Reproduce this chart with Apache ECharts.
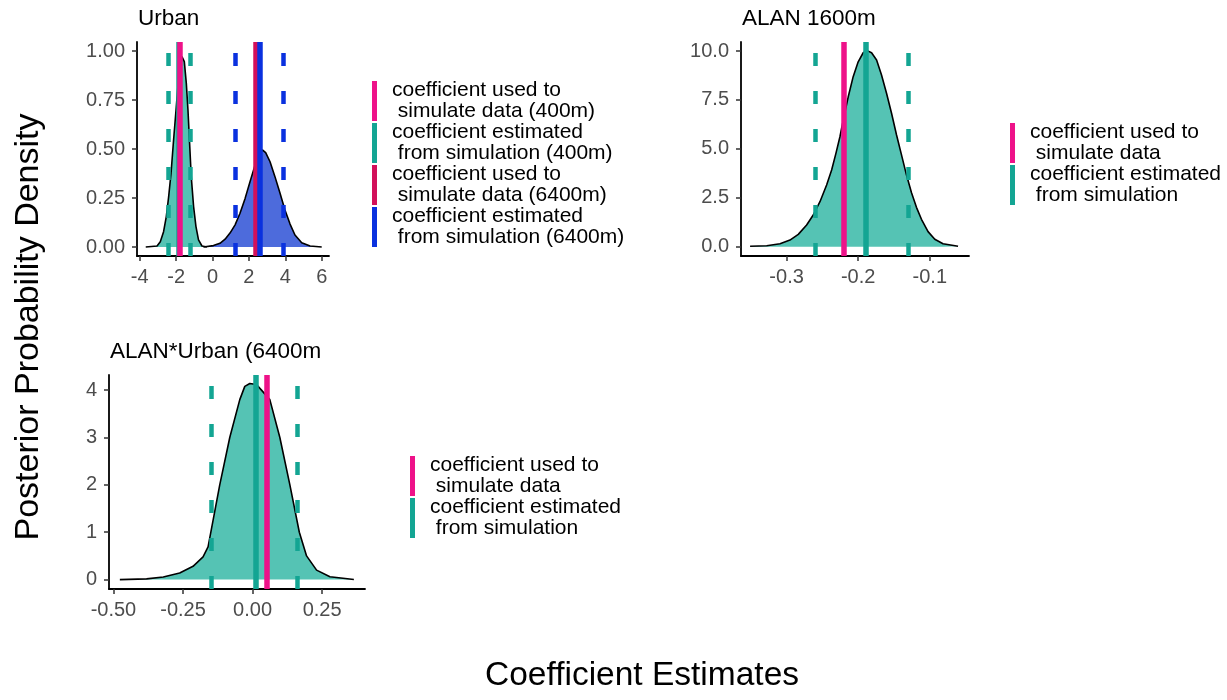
<!DOCTYPE html>
<html><head><meta charset="utf-8">
<script src="https://cdn.jsdelivr.net/npm/echarts@6/dist/echarts.min.js"></script>
<style>html,body{margin:0;padding:0;background:#fff}#c{width:1227px;height:700px}</style>
</head><body><div id="c"></div>
<script>
// ---------- Panel 1: Urban ----------
const urbanDens400X = [-3.67, -3.05, -2.87, -2.69, -2.54, -2.41, -2.28, -2.14, -1.99, -1.86, -1.77, -1.68, -1.55, -1.44, -1.35, -1.26, -1.17, -1.04, -0.91, -0.77, -0.58, -0.31];
const urbanDens400Y = [0, 0.005, 0.027, 0.078, 0.155, 0.257, 0.376, 0.546, 0.716, 0.869, 0.954, 0.971, 0.946, 0.835, 0.70, 0.53, 0.36, 0.206, 0.104, 0.036, 0.005, 0];
const urbanDens6400X = [-0.50, 0.05, 0.41, 0.69, 0.96, 1.24, 1.51, 1.79, 2.06, 2.34, 2.57, 2.74, 2.92, 3.16, 3.43, 3.71, 3.98, 4.26, 4.53, 4.90, 5.36, 6.00];
const urbanDens6400Y = [0, 0.007, 0.019, 0.04, 0.071, 0.113, 0.172, 0.248, 0.333, 0.418, 0.478, 0.495, 0.481, 0.435, 0.359, 0.274, 0.189, 0.117, 0.061, 0.022, 0.005, 0];
const urbanTrue400 = -1.82, urbanEst400 = -1.83, urbanCI400 = [-2.46, -1.20];
const urbanTrue6400 = 2.35, urbanEst6400 = 2.57, urbanCI6400 = [1.27, 3.87];
const urbanXTicks = [-4, -2, 0, 2, 4, 6];
const urbanXLabels = ['-4', '-2', '0', '2', '4', '6'];
const urbanYTicks = [0, 0.25, 0.5, 0.75, 1];
const urbanYLabels = ['0.00', '0.25', '0.50', '0.75', '1.00'];

// ---------- Panel 2: ALAN 1600m ----------
const alanDensX = [-0.351, -0.3278, -0.3092, -0.2953, -0.2837, -0.2720, -0.2628, -0.2534, -0.2441, -0.2371, -0.2311, -0.2255, -0.2199, -0.2139, -0.2070, -0.2000, -0.1930, -0.1874, -0.1813, -0.1743, -0.1674, -0.1604, -0.1534, -0.1464, -0.1395, -0.1325, -0.1255, -0.1186, -0.1116, -0.1024, -0.0930, -0.0815, -0.0605];
const alanDensY = [0.02, 0.05, 0.15, 0.34, 0.63, 1.11, 1.62, 2.30, 3.15, 3.92, 4.77, 5.62, 6.64, 7.66, 8.69, 9.45, 9.91, 10.02, 9.91, 9.54, 8.77, 7.84, 6.82, 5.71, 4.69, 3.66, 2.76, 2.01, 1.40, 0.77, 0.38, 0.15, 0.02];
const alanTrue = -0.2186, alanEst = -0.190, alanCI = [-0.258, -0.1265];
const alanXTicks = [-0.3, -0.2, -0.1];
const alanXLabels = ['-0.3', '-0.2', '-0.1'];
const alanYTicks = [0, 2.5, 5, 7.5, 10];
const alanYLabels = ['0.0', '2.5', '5.0', '7.5', '10.0'];

// ---------- Panel 3: ALAN*Urban (6400m ----------
const intDensX = [-0.477, -0.381, -0.321, -0.262, -0.214, -0.178, -0.160, -0.150, -0.118, -0.082, -0.046, -0.028, -0.010, 0.014, 0.032, 0.062, 0.098, 0.134, 0.168, 0.194, 0.230, 0.278, 0.364];
const intDensY = [0, 0.014, 0.056, 0.14, 0.28, 0.48, 0.69, 1.0, 2.0, 3.0, 3.8, 4.08, 4.14, 4.12, 4.0, 3.8, 3.0, 2.0, 1.0, 0.5, 0.2, 0.06, 0];
const intTrue = 0.053, intEst = 0.007, intCI = [-0.151, 0.158];
const intXTicks = [-0.5, -0.25, 0, 0.25];
const intXLabels = ['-0.50', '-0.25', '0.00', '0.25'];
const intYTicks = [0, 1, 2, 3, 4];
const intYLabels = ['0', '1', '2', '3', '4'];

// ---------- Text ----------
const panelTitles = ['Urban', 'ALAN 1600m', 'ALAN*Urban (6400m'];
const legendUrban = ['coefficient used to\n simulate data (400m)', 'coefficient estimated\n from simulation (400m)', 'coefficient used to\n simulate data (6400m)', 'coefficient estimated\n from simulation (6400m)'];
const legendSingle = ['coefficient used to\n simulate data', 'coefficient estimated\n from simulation'];
const yTitle = 'Posterior Probability Density';
const xTitle = 'Coefficient Estimates';

// ---------- Styles ----------
const PINK = '#EE1289', TEAL = '#13A593', TEAL_FILL = '#55C3B4', BLUE = '#0A31DF', BLUE_FILL = '#4D6BDC', CRIMSON = '#D2105A';
const FONT = '"Liberation Sans", Arial, sans-serif';
const DASH = [13, 25];

const zip = (xs, ys) => xs.map((x, i) => [x, ys[i]]);

function axisCfg(gi, min, max, ticks, labels, margin) {
  return {
    type: 'value', gridIndex: gi, min: min, max: max,
    axisLine: { show: true, onZero: false, lineStyle: { color: '#000', width: 1.8 } },
    axisTick: { show: true, length: 5, customValues: ticks, lineStyle: { color: '#333', width: 1.5 } },
    axisLabel: { customValues: ticks, margin: margin, fontSize: 20, fontFamily: FONT, color: '#4D4D4D',
      formatter: v => { let i = ticks.findIndex(t => Math.abs(t - v) < 1e-9); return i >= 0 ? labels[i] : ''; } },
    splitLine: { show: false }
  };
}
function density(gi, name, xs, ys, fill) {
  return { type: 'line', name: name, xAxisIndex: gi, yAxisIndex: gi, data: zip(xs, ys), showSymbol: false, symbol: 'none',
    smooth: false, lineStyle: { color: '#000', width: 1.6 }, areaStyle: { color: fill, opacity: 1 }, z: 2, silent: true, animation: false };
}
function vlines(gi, name, color, solid, dashed) {
  const data = [];
  if (solid !== null) data.push({ xAxis: solid, lineStyle: { type: 'solid', width: 5.5 } });
  (dashed || []).forEach(d => data.push({ xAxis: d, lineStyle: { type: DASH, width: 4.5 } }));
  return { type: 'line', name: name, xAxisIndex: gi, yAxisIndex: gi, data: [], color: color,
    itemStyle: { color: color }, lineStyle: { color: color },
    markLine: { symbol: ['none', 'none'], silent: true, animation: false, label: { show: false },
      lineStyle: { color: color }, emphasis: { disabled: true }, data: data }, z: 3 };
}
function legendCfg(names, colors, left, top) {
  return { orient: 'vertical', left: left, top: top, padding: 0, itemWidth: 5, itemHeight: 40, itemGap: 0, selectedMode: false,
    data: names.map((n, i) => ({ name: n, icon: 'rect', itemStyle: { color: colors[i] } })),
    textStyle: { fontSize: 21, lineHeight: 21, fontFamily: FONT, color: '#000', padding: [0, 0, 0, 10] } };
}

const chart = echarts.init(document.getElementById('c'), null, { renderer: 'canvas' });
chart.setOption({
  animation: false,
  backgroundColor: '#fff',
  grid: [
    { left: 137, top: 42, width: 192, height: 214 },
    { left: 741, top: 42, width: 228, height: 214 },
    { left: 109, top: 375, width: 256, height: 214 }
  ],
  xAxis: [
    axisCfg(0, -4.15, 6.40, urbanXTicks, urbanXLabels, 11),
    axisCfg(1, -0.3637, -0.0452, alanXTicks, alanXLabels, 11),
    axisCfg(2, -0.516, 0.404, intXTicks, intXLabels, 11)
  ],
  yAxis: [
    axisCfg(0, -0.046, 1.046, urbanYTicks, urbanYLabels, 12),
    axisCfg(1, -0.475, 10.46, alanYTicks, alanYLabels, 12),
    axisCfg(2, -0.199, 4.32, intYTicks, intYLabels, 12)
  ],
  legend: [
    legendCfg(legendUrban, [PINK, TEAL, CRIMSON, BLUE], 372, 80),
    legendCfg(legendSingle, [PINK, TEAL], 1010, 122),
    legendCfg(legendSingle, [PINK, TEAL], 410, 455)
  ],
  series: [
    density(0, 'dens400', urbanDens400X, urbanDens400Y, TEAL_FILL),
    density(0, 'dens6400', urbanDens6400X, urbanDens6400Y, BLUE_FILL),
    vlines(0, legendUrban[1], TEAL, urbanEst400, urbanCI400),
    vlines(0, legendUrban[0], PINK, urbanTrue400, []),
    vlines(0, legendUrban[2], CRIMSON, urbanTrue6400, []),
    vlines(0, legendUrban[3], BLUE, urbanEst6400, urbanCI6400),
    density(1, 'densAlan', alanDensX, alanDensY, TEAL_FILL),
    vlines(1, legendSingle[1], TEAL, alanEst, alanCI),
    vlines(1, legendSingle[0], PINK, alanTrue, []),
    density(2, 'densInt', intDensX, intDensY, TEAL_FILL),
    vlines(2, legendSingle[1], TEAL, intEst, intCI),
    vlines(2, legendSingle[0], PINK, intTrue, [])
  ],
  graphic: [
    { type: 'text', left: 138, top: 7, style: { text: panelTitles[0], fontSize: 22.5, fontFamily: FONT, fill: '#000' } },
    { type: 'text', left: 742, top: 7, style: { text: panelTitles[1], fontSize: 22.5, fontFamily: FONT, fill: '#000' } },
    { type: 'text', left: 110, top: 340, style: { text: panelTitles[2], fontSize: 22.5, fontFamily: FONT, fill: '#000' } },
    { type: 'text', x: 29, y: 327, rotation: Math.PI / 2, style: { text: yTitle, fontSize: 34, fontFamily: FONT, fill: '#000', align: 'center', verticalAlign: 'middle' } },
    { type: 'text', x: 642, y: 676, style: { text: xTitle, fontSize: 33.5, fontFamily: FONT, fill: '#000', align: 'center', verticalAlign: 'middle' } }
  ]
});
</script>
</body></html>
